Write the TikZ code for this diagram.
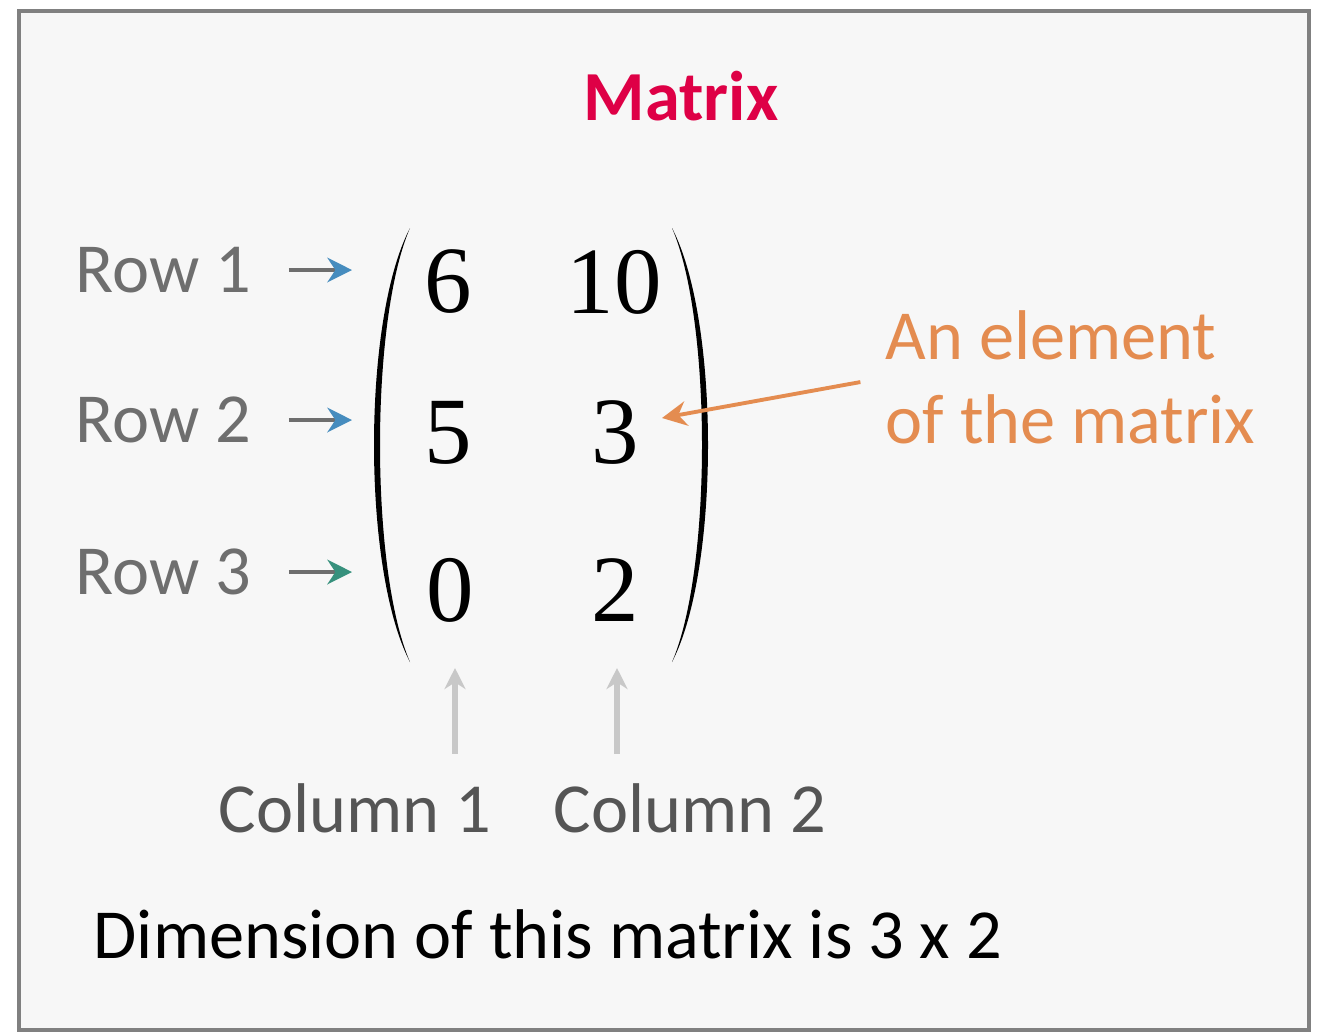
\documentclass[tikz,border=0pt]{standalone}
\usepackage{fontspec}
\setmainfont{Carlito}
\newfontfamily\numfont{Liberation Serif}
\usetikzlibrary{arrows.meta, positioning}

\definecolor{titlered}{RGB}{222,0,70}
\definecolor{rowgray}{RGB}{110,110,110}
\definecolor{colgray}{RGB}{85,85,85}
\definecolor{rowblue}{RGB}{70,140,190}
\definecolor{rowteal}{RGB}{55,145,125}
\definecolor{elemorange}{RGB}{228,140,80}
\definecolor{stemgray}{RGB}{200,200,200}
\definecolor{panel}{RGB}{247,247,247}

\begin{document}
\begin{tikzpicture}[
    x=0.01cm, y=-0.01cm,
    label/.style={inner sep=0pt, font=\fontsize{20}{24}\selectfont},
    entry/.style={inner sep=0pt, font=\numfont\fontsize{27}{32}\selectfont},
    rowarrow/.style={draw=rowgray, line width=1.1pt, -{Stealth[length=7pt, width=7pt, color=#1]}},
    colarrow/.style={draw=stemgray, line width=1.5pt, -{Stealth[length=6pt, width=6pt]}},
    elemarrow/.style={draw=elemorange, line width=1.1pt, -{Stealth[length=7pt, width=7pt]}}
]

% Rahmen
\fill[white] (0,0) rectangle (1318,1035);
\draw[gray, fill=panel, line width=1.2pt] (19,11) rectangle (1309,1030);

% Titel
\node[label, font=\bfseries\fontsize{20}{24}\selectfont, text=titlered] (title) at (681,96) {Matrix};

% Eintraege
\foreach \v/\r/\c/\x/\y in {6/1/1/448/282, 10/1/2/614/282, 5/2/1/448/433, 3/2/2/615/433, 0/3/1/450/590, 2/3/2/615/590} {
    \node[entry] (m\r\c) at (\x,\y) {\v};
}

% Klammern
\fill (410,228) .. controls (362,320) and (362,570) .. (410,662)
      .. controls (370,570) and (370,320) .. (410,228);
\fill (672,228) .. controls (720,320) and (720,570) .. (672,662)
      .. controls (712,570) and (712,320) .. (672,228);

% Zeilen
\foreach \i/\y/\tip in {1/270/rowblue, 2/420/rowblue, 3/572/rowteal} {
    \node[label, anchor=west, text=rowgray] (row\i) at (75,\y) {Row \i};
    \coordinate (rt\i) at (352,\y);
    \draw[rowarrow=\tip, shorten <=0.37cm] (row\i.east) -- (rt\i);
}

% Element
\node[label, text=elemorange, align=left, anchor=north west] (elem) at (885,310) {An element\\of the matrix};
\coordinate (et) at (662,418);
\draw[elemarrow, shorten <=0.25cm] (elem.west) -- (et);

% Spalten
\node[label, text=colgray] (col1) at (355,808) {Column 1};
\node[label, text=colgray] (col2) at (690,808) {Column 2};
\coordinate (ct1) at (455,668);
\coordinate (ct2) at (617,668);
\draw[colarrow, shorten <=0.29cm] (col1.north -| ct1) -- (ct1);
\draw[colarrow, shorten <=0.29cm] (col2.north -| ct2) -- (ct2);

% Dimension
\node[label] (dim) at (548,934) {Dimension of this matrix is 3 x 2};

\end{tikzpicture}
\end{document}
